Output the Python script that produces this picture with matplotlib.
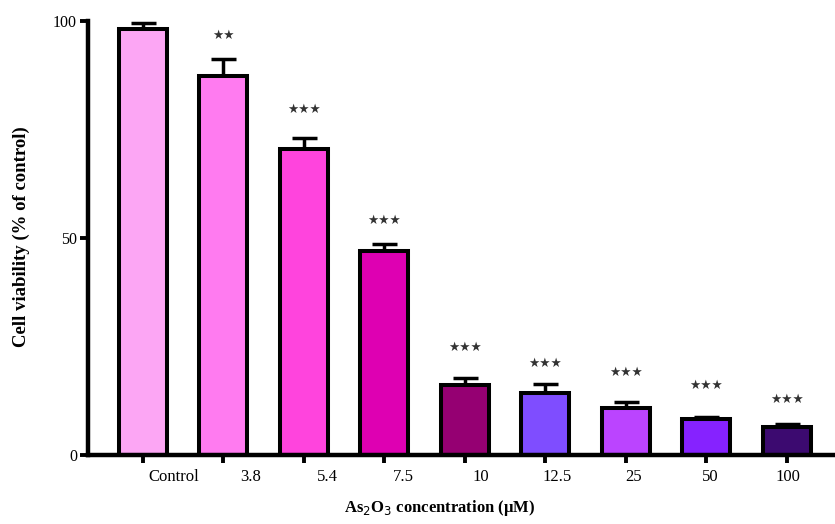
import matplotlib
matplotlib.use("Agg")
import matplotlib.pyplot as plt
import numpy as np

# data
groups = ["Control", "3.8", "5.4", "7.5", "10", "12.5", "25", "50", "100"]
viability = [98.2, 87.4, 70.4, 47.0, 16.1, 14.3, 10.9, 8.4, 6.5]
sem = [1.4, 3.8, 2.6, 1.6, 1.6, 2.0, 1.4, 0.4, 0.6]
stars = ["", "★★", "★★★", "★★★", "★★★", "★★★", "★★★", "★★★", "★★★"]
star_y = [0, 96.7, 79.7, 54.1, 24.7, 21.2, 19.1, 16.1, 12.7]
colors = ["#FCA6F4", "#FF7BF0", "#FF44DD", "#DE00B2", "#950072",
          "#7F4DFF", "#BB44FF", "#8622FF", "#3C0A70"]

serif = ["Liberation Serif", "DejaVu Serif"]

fig = plt.figure(figsize=(8.35, 5.24), dpi=100)
ax = fig.add_axes([0.1054, 0.1317, 0.8946, 0.8683])

x = np.arange(len(groups))
ax.bar(x, viability, width=0.6, color=colors, edgecolor="black",
       linewidth=2.9, zorder=2)
ax.errorbar(x, viability, yerr=[np.zeros(len(sem)), sem], fmt="none",
            ecolor="black", elinewidth=2.5, capsize=9, capthick=2.5, zorder=1)

# significance stars
for xi, sy, s in zip(x, star_y, stars):
    if s:
        ax.text(xi, sy, s, ha="center", va="center", fontsize=9,
                color="#333333", family=["DejaVu Sans"])

ax.set_xlim(-0.68, 8.6)
ax.set_ylim(0, 104.8)

for side in ["top", "right"]:
    ax.spines[side].set_visible(False)
ax.spines["left"].set_bounds(0, 100)
ax.spines["left"].set_linewidth(3.2)
ax.spines["bottom"].set_linewidth(3.2)

ax.set_yticks([0, 50, 100])
ax.set_yticklabels(["0", "50", "100"], family=serif, fontsize=11.5)
ax.tick_params(axis="both", direction="out", length=6, width=2.8, pad=2)

# category labels sit a little right of their ticks in the original
ax.set_xticks(x)
ax.set_xticklabels([""] * len(groups))
label_x = 0.385 + 0.953 * x
for lx, g in zip(label_x, groups):
    ax.text(lx, -5.1, g, ha="center", va="center", fontsize=12,
            family=serif, clip_on=False)

fig.text(0.026, 0.548, "Cell viability (% of control)", rotation=90,
         ha="center", va="center", fontsize=13.5, fontweight="bold", family=serif)
fig.text(0.527, 0.031, r"As$_2$O$_3$ concentration (μM)", ha="center",
         va="center", fontsize=12, fontweight="bold", family=serif)

fig.savefig("out.png", dpi=100, facecolor="white")
